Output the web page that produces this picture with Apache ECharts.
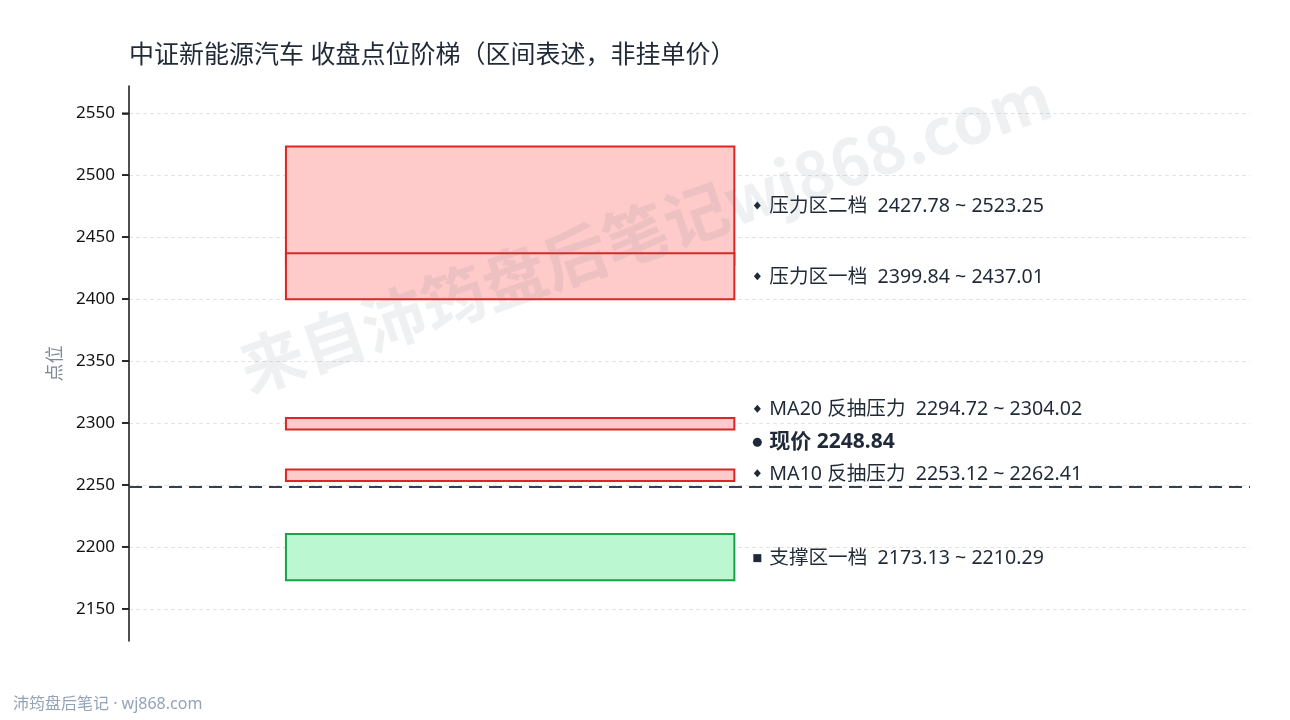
<!DOCTYPE html>
<html lang="zh-CN">
<head>
    <meta charset="UTF-8">
    <title>中证新能源汽车 收盘点位阶梯</title>
    <script src="https://cdn.jsdelivr.net/npm/echarts@6/dist/echarts.min.js"></script>
    <style>
        html, body { margin: 0; padding: 0; background: #fff; }
        #main { width: 1290px; height: 720px; }
    </style>
</head>
<body>
<div id="main"></div>
<script type="text/javascript">
    // 区间数据
    var zoneNames = ['压力区二档', '压力区一档', 'MA20 反抽压力', 'MA10 反抽压力', '支撑区一档'];
    var zoneLow = [2427.78, 2399.84, 2294.72, 2253.12, 2173.13];
    var zoneHigh = [2523.25, 2437.01, 2304.02, 2262.41, 2210.29];
    var zoneKind = ['resist', 'resist', 'resist', 'resist', 'support'];
    var lastPrice = 2248.84;
    var yTicks = [2150, 2200, 2250, 2300, 2350, 2400, 2450, 2500, 2550];
    var yMin = 2124, yMax = 2572;

    var FONT = '"Noto Sans", "Noto Sans CJK SC", sans-serif';
    var TXT = '#1f2937';

    // 标签上下微调（像素），避免重叠
    var labelNudge = [0, 0, -15, -2, 0];

    var zoneData = zoneNames.map(function (n, i) {
        return [i, zoneLow[i], zoneHigh[i]];
    });

    function renderZone(params, api) {
        var i = api.value(0);
        var lo = api.value(1), hi = api.value(2);
        var p1 = api.coord([0.14, hi]);
        var p2 = api.coord([0.54, lo]);
        var mid = api.coord([0.54, (lo + hi) / 2]);
        var sup = zoneKind[i] === 'support';
        var ly = mid[1] + labelNudge[i];
        var mx = p2[0] + 23;
        var marker = sup ? {
            type: 'rect',
            shape: { x: mx - 4, y: ly - 3, width: 8, height: 8 },
            style: { fill: TXT }
        } : {
            type: 'polygon',
            shape: { points: [[mx, ly - 4], [mx + 3.5, ly], [mx, ly + 4], [mx - 3.5, ly]] },
            style: { fill: TXT }
        };
        return {
            type: 'group',
            children: [{
                type: 'rect',
                shape: { x: p1[0], y: p1[1], width: p2[0] - p1[0], height: p2[1] - p1[1] },
                style: {
                    fill: sup ? '#bbf7d0' : '#fecaca',
                    stroke: sup ? '#16a34a' : '#dc2626',
                    lineWidth: 2
                }
            }, marker, {
                type: 'text',
                style: {
                    x: mx + 12, y: ly + 1,
                    text: zoneNames[i] + '  ' + zoneLow[i].toFixed(2) + ' ~ ' + zoneHigh[i].toFixed(2),
                    font: '19.6px ' + FONT,
                    fill: TXT,
                    verticalAlign: 'middle'
                }
            }]
        };
    }

    function renderPrice(params, api) {
        var p = api.coord([0.54, api.value(0)]);
        var mx = p[0] + 23, ly = p[1] - 45;
        return {
            type: 'group',
            children: [{
                type: 'circle',
                shape: { cx: mx, cy: ly + 1, r: 4.5 },
                style: { fill: TXT }
            }, {
                type: 'text',
                style: {
                    x: mx + 12, y: ly + 1,
                    text: '现价 ' + lastPrice.toFixed(2),
                    font: 'bold 21px ' + FONT,
                    fill: TXT,
                    verticalAlign: 'middle'
                }
            }]
        };
    }

    // 左轴刻度线（按 yTicks 画）
    function renderTick(params, api) {
        var p = api.coord([0, api.value(1)]);
        return {
            type: 'rect',
            shape: { x: p[0] - 7, y: p[1] - 0.8, width: 7, height: 1.6 },
            style: { fill: '#222' }
        };
    }

    var myChart = echarts.init(document.getElementById('main'));

    var option = {
        backgroundColor: '#fff',
        animation: false,
        title: {
            text: '中证新能源汽车 收盘点位阶梯（区间表述，非挂单价）',
            left: 129,
            top: 43,
            padding: 0,
            textStyle: { fontFamily: FONT, fontSize: 25, fontWeight: 'normal', color: TXT }
        },
        grid: { left: 129, right: 40, top: 86, bottom: 79 },
        xAxis: { type: 'value', min: 0, max: 1, show: false },
        yAxis: {
            type: 'value',
            min: yMin,
            max: yMax,
            name: '点位',
            nameLocation: 'middle',
            nameGap: 64,
            nameTextStyle: { fontFamily: FONT, fontSize: 18, color: '#7f8796' },
            axisLine: { show: true, lineStyle: { color: '#222', width: 1.6 } },
            axisTick: { show: true, length: 7, customValues: yTicks, lineStyle: { color: '#222', width: 1.6 } },
            axisLabel: {
                customValues: yTicks,
                formatter: function (v) { return String(v); },
                fontFamily: FONT, fontSize: 17, color: '#111', margin: 14
            },
            splitLine: { show: true, lineStyle: { color: '#e3e3e3', type: [4, 3], width: 1 } }
        },
        series: [{
            type: 'custom',
            renderItem: renderTick,
            encode: { x: 0, y: 1 },
            data: yTicks.map(function (v) { return [0, v]; }),
            clip: false,
            z: 5,
            silent: true
        }, {
            type: 'custom',
            renderItem: renderZone,
            encode: { x: -1, y: [1, 2] },
            data: zoneData,
            z: 3,
            silent: true
        }, {
            type: 'custom',
            renderItem: renderPrice,
            encode: { y: 0 },
            data: [[lastPrice]],
            z: 4,
            silent: true,
            markLine: {
                silent: true,
                symbol: 'none',
                label: { show: false },
                lineStyle: { color: '#334155', width: 2, type: [13, 7] },
                data: [{ yAxis: lastPrice }]
            }
        }],
        graphic: [{
            type: 'text',
            x: 645, y: 232,
            rotation: 19 * Math.PI / 180,
            z: 100,
            silent: true,
            style: {
                text: '来自沛筠盘后笔记wj868.com',
                font: 'bold 64px "Noto Sans CJK SC", sans-serif',
                fill: 'rgba(100,116,139,0.11)',
                align: 'center',
                verticalAlign: 'middle'
            }
        }, {
            type: 'text',
            left: 13,
            top: 696,
            silent: true,
            style: {
                text: '沛筠盘后笔记 · wj868.com',
                font: '16px ' + FONT,
                fill: '#94a3b8'
            }
        }]
    };
    myChart.setOption(option);
</script>
</body>
</html>
